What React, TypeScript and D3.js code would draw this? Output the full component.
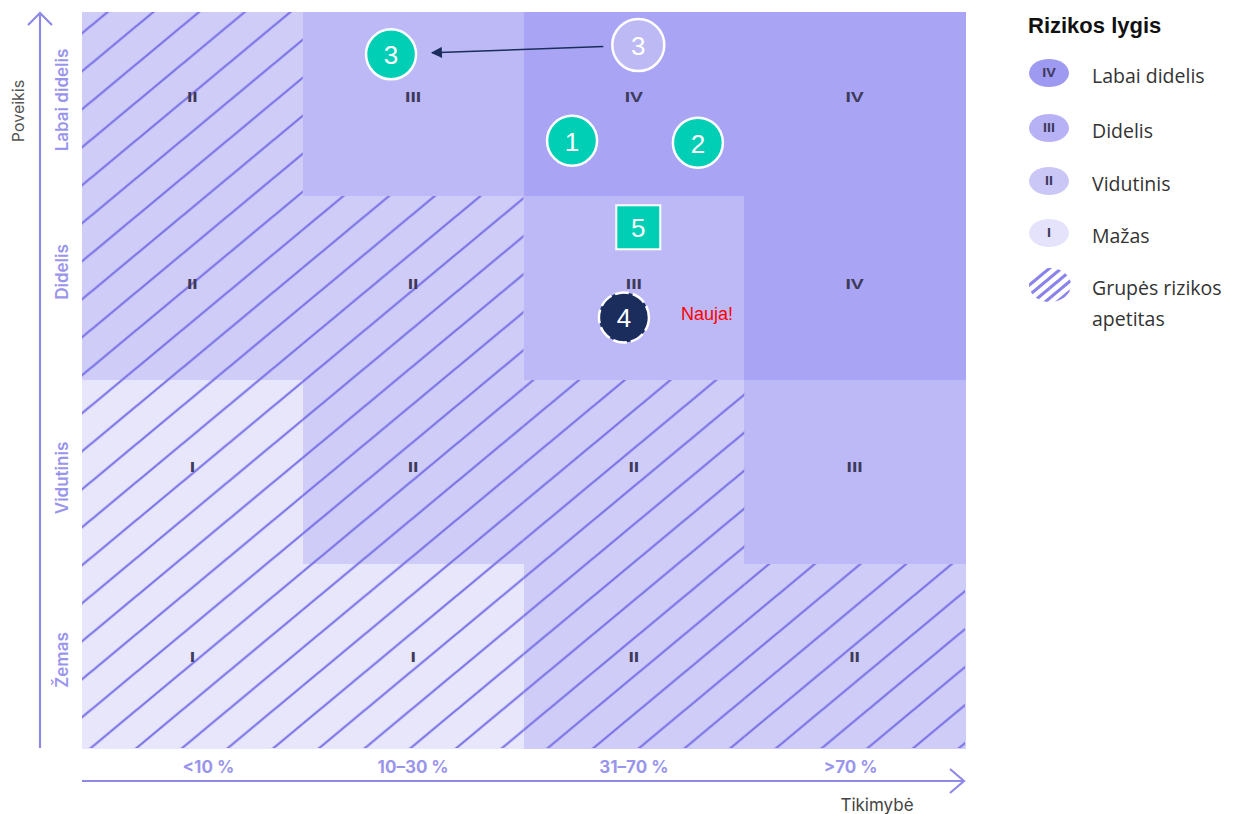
import * as d3 from "d3";
import * as React from "react";

// impact rows from top to bottom, probability columns from left to right
const impactLabels = ["Labai didelis", "Didelis", "Vidutinis", "Žemas"];
const probabilityLabels = ["<10 %", "10–30 %", "31–70 %", ">70 %"];
const levelGrid = [
  [2, 3, 4, 4],
  [2, 2, 3, 4],
  [1, 2, 2, 3],
  [1, 1, 2, 2],
];
const appetiteGrid = [
  [1, 0, 0, 0],
  [1, 1, 0, 0],
  [1, 1, 1, 0],
  [1, 1, 1, 1],
];
const romanLabels = ["I", "II", "III", "IV"];
const legendTitle = "Rizikos lygis";
const legendLevels = [
  { level: 4, label: "Labai didelis" },
  { level: 3, label: "Didelis" },
  { level: 2, label: "Vidutinis" },
  { level: 1, label: "Mažas" },
];
const appetiteLabel = ["Grupės rizikos", "apetitas"];

// risk markers: x = probability (0..4), y = impact (0..4, bottom up)
const risks = [
  { id: "3", x: 1.4, y: 3.77, kind: "current" },
  { id: "3", x: 2.52, y: 3.82, kind: "previous" },
  { id: "1", x: 2.22, y: 3.3, kind: "current" },
  { id: "2", x: 2.79, y: 3.29, kind: "current" },
  { id: "5", x: 2.52, y: 2.83, kind: "square" },
  { id: "4", x: 2.455, y: 2.34, kind: "new" },
];
const moves = [{ from: 1, to: 0 }];
const newLabel = "Nauja!";

const levelColor: Record<number, string> = {
  1: "#e7e6fb",
  2: "#cfcdf8",
  3: "#bcb9f6",
  4: "#a9a5f4",
};
const legendColor: Record<number, string> = {
  1: "#e4e3fb",
  2: "#cac7f7",
  3: "#b6b2f5",
  4: "#9e99f1",
};

const W = 1257;
const H = 814;
const grid = { left: 82, right: 965, top: 12, bottom: 748 };
const axisColor = "#8f8ae8";
const teal = "#00cfb5";
const navy = "#1b2d5c";
const rowNudge = [-4, -1, -2, 4];

export default function App() {
  const col = d3.scaleBand<string>().domain(probabilityLabels).range([grid.left, grid.right]);
  const row = d3.scaleBand<string>().domain(impactLabels).range([grid.top, grid.bottom]);
  const px = d3.scaleLinear().domain([0, 4]).range([grid.left, grid.right]);
  const py = d3.scaleLinear().domain([0, 4]).range([grid.bottom, grid.top]);

  const cells = levelGrid.flatMap((r, i) =>
    r.map((level, j) => ({
      level,
      row: i,
      hatch: appetiteGrid[i][j] === 1,
      x: col(probabilityLabels[j])!,
      y: row(impactLabels[i])!,
    }))
  );

  const hw = 45.7;
  const hh = 38;
  const legendY = [73, 128, 181, 233];

  return (
    <svg width={W} height={H} style={{ position: "absolute", left: 0, top: 0, background: "#fff" }}>
      <defs>
        <pattern id="hatch" patternUnits="userSpaceOnUse" width={hw} height={hh} x={0} y={25.5}>
          <path
            d={`M${-hw / 4},${hh / 4}L${hw / 4},${-hh / 4}M0,${hh}L${hw},0M${(3 * hw) / 4},${(5 * hh) / 4}L${(5 * hw) / 4},${(3 * hh) / 4}`}
            stroke="#746ce4"
            strokeWidth={2.1}
          />
        </pattern>
        <pattern id="hatchLegend" patternUnits="userSpaceOnUse" width={12} height={10} x={1} y={2}>
          <path d="M-3,2.5L3,-2.5M0,10L12,0M9,12.5L15,7.5" stroke="#8a83ec" strokeWidth={3.2} />
        </pattern>
        <clipPath id="legendClip">
          <ellipse cx={1050} cy={285} rx={21} ry={17} />
        </clipPath>
        <marker id="arrow" viewBox="0 0 10 10" refX={9} refY={5} markerWidth={12} markerHeight={11} orient="auto" markerUnits="userSpaceOnUse">
          <path d="M0,0L10,5L0,10Z" fill={navy} />
        </marker>
      </defs>

      <g shapeRendering="crispEdges">
        {cells.map((c, k) => (
          <rect key={k} x={c.x} y={c.y} width={col.bandwidth() + 0.5} height={row.bandwidth() + 0.5} fill={levelColor[c.level]} />
        ))}
      </g>
      {cells.map((c, k) =>
        c.hatch ? <rect key={k} x={c.x} y={c.y} width={col.bandwidth()} height={row.bandwidth()} fill="url(#hatch)" /> : null
      )}
      {cells.map((c, k) => {
        const cx = c.x + col.bandwidth() / 2;
        return (
          <text
            key={k}
            x={cx}
            y={c.y + row.bandwidth() / 2 - 3 + rowNudge[c.row]}
            textAnchor="middle"
            dominantBaseline="central"
            fontFamily="Liberation Sans, Arial, sans-serif"
            fontWeight={900}
            fontSize={15}
            fill="#3d3a5a"
            transform={`translate(${cx},0) scale(1.3,1) translate(${-cx},0)`}
          >
            {romanLabels[c.level - 1]}
          </text>
        );
      })}

      {/* y axis */}
      <line x1={40} x2={40} y1={748} y2={13} stroke={axisColor} strokeWidth={2.2} />
      <path d="M28,25L40,13L52,25" fill="none" stroke={axisColor} strokeWidth={2.2} />
      {impactLabels.map((l, i) => {
        const cy = [100, 272, 478, 660][i];
        return (
          <text
            key={l}
            transform={`translate(62,${cy}) rotate(-90)`}
            textAnchor="middle"
            dominantBaseline="central"
            fontFamily="Inter, sans-serif"
            fontWeight={600}
            fontSize={17}
            fill="#9a95ec"
          >
            {l}
          </text>
        );
      })}
      <text
        transform="translate(18,111) rotate(-90)"
        textAnchor="middle"
        dominantBaseline="central"
        fontFamily="Inter, sans-serif"
        fontSize={16}
        fill="#555"
      >
        Poveikis
      </text>

      {/* x axis */}
      <line x1={grid.left} x2={964} y1={781} y2={781} stroke={axisColor} strokeWidth={2.2} />
      <path d="M950,769L964,781L950,793" fill="none" stroke={axisColor} strokeWidth={2.2} />
      {probabilityLabels.map((l, j) => (
        <text
          key={l}
          x={col(l)! + col.bandwidth() / 2 + [16, 0, 0, -4][j]}
          y={767}
          textAnchor="middle"
          dominantBaseline="central"
          fontFamily="Inter, sans-serif"
          fontWeight={700}
          fontSize={17}
          fill="#9a95ec"
        >
          {l}
        </text>
      ))}
      <text x={877} y={805} textAnchor="middle" dominantBaseline="central" fontFamily="Inter, sans-serif" fontSize={17} fill="#444">
        Tikimybė
      </text>

      {/* movement arrows */}
      {moves.map((m, k) => {
        const a = risks[m.from];
        const b = risks[m.to];
        const x1 = px(a.x), y1 = py(a.y), x2 = px(b.x), y2 = py(b.y);
        const d = Math.hypot(x2 - x1, y2 - y1);
        const ux = (x2 - x1) / d, uy = (y2 - y1) / d;
        return (
          <line
            key={k}
            x1={x1 + ux * 35}
            y1={y1 + uy * 35}
            x2={x2 - ux * 41}
            y2={y2 - uy * 41}
            stroke={navy}
            strokeWidth={1.5}
            markerEnd="url(#arrow)"
          />
        );
      })}

      {/* risk markers */}
      {risks.map((r, k) => {
        const cx = px(r.x);
        const cy = py(r.y);
        const fill = r.kind === "previous" ? "#bdb9f4" : r.kind === "new" ? navy : teal;
        return (
          <g key={k}>
            {r.kind === "square" ? (
              <rect x={cx - 22} y={cy - 22} width={44} height={44} fill={fill} stroke="#fff" strokeWidth={2} />
            ) : (
              <circle
                cx={cx}
                cy={cy}
                r={r.kind === "previous" ? 26 : 25}
                fill={fill}
                stroke="#fff"
                strokeWidth={2.5}
                strokeDasharray={r.kind === "new" ? "14 4" : undefined}
              />
            )}
            <text
              x={cx}
              y={cy + 1}
              textAnchor="middle"
              dominantBaseline="central"
              fontFamily="Liberation Sans, Arial, sans-serif"
              fontSize={26}
              fill="#fff"
            >
              {r.id}
            </text>
            {r.kind === "new" && (
              <text x={cx + 57} y={cy - 3} dominantBaseline="central" fontFamily="Liberation Sans, Arial, sans-serif" fontSize={18} fill="#ff0000">
                {newLabel}
              </text>
            )}
          </g>
        );
      })}

      {/* legend */}
      <text x={1028} y={25} dominantBaseline="central" fontFamily="Liberation Sans, Arial, sans-serif" fontWeight={700} fontSize={22} fill="#111">
        {legendTitle}
      </text>
      {legendLevels.map((l, i) => (
        <g key={l.label}>
          <ellipse cx={1049} cy={legendY[i]} rx={20} ry={14} fill={legendColor[l.level]} />
          <text
            x={1049}
            y={legendY[i]}
            textAnchor="middle"
            dominantBaseline="central"
            fontFamily="Liberation Sans, Arial, sans-serif"
            fontWeight={900}
            fontSize={12}
            fill="#3d3a5a"
            transform={`translate(1049,0) scale(1.2,1) translate(-1049,0)`}
          >
            {romanLabels[l.level - 1]}
          </text>
          <text x={1092} y={legendY[i] + 2} dominantBaseline="central" fontFamily="Open Sans, sans-serif" fontSize={19.5} fill="#333">
            {l.label}
          </text>
        </g>
      ))}
      <rect x={1028} y={267} width={44} height={36} fill="url(#hatchLegend)" clipPath="url(#legendClip)" />
      <text x={1092} y={287} dominantBaseline="central" fontFamily="Open Sans, sans-serif" fontSize={19.5} fill="#333">
        {appetiteLabel[0]}
      </text>
      <text x={1092} y={318} dominantBaseline="central" fontFamily="Open Sans, sans-serif" fontSize={19.5} fill="#333">
        {appetiteLabel[1]}
      </text>
    </svg>
  );
}
